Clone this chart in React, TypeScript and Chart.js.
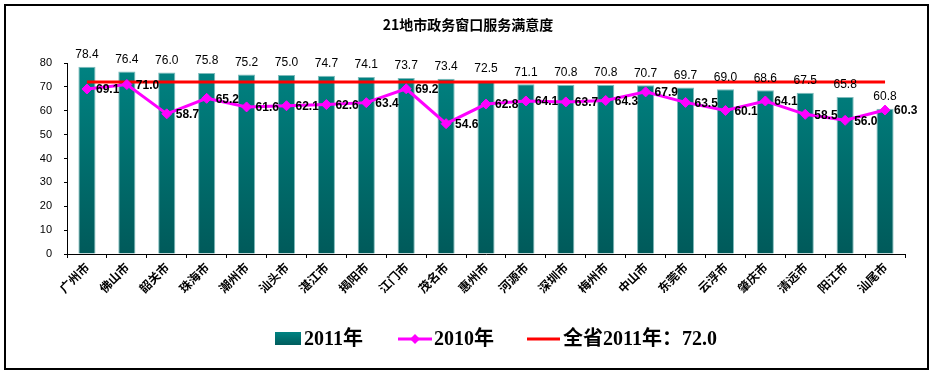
import React, { useEffect, useRef } from 'react';
import { Chart, registerables } from 'chart.js';

Chart.register(...registerables);

const chartTitle = '21地市政务窗口服务满意度';
const cities = [
  '广州市', '佛山市', '韶关市', '珠海市', '潮州市', '汕头市', '湛江市',
  '揭阳市', '江门市', '茂名市', '惠州市', '河源市', '深圳市', '梅州市',
  '中山市', '东莞市', '云浮市', '肇庆市', '清远市', '阳江市', '汕尾市',
];
const values2011 = [
  78.4, 76.4, 76.0, 75.8, 75.2, 75.0, 74.7, 74.1, 73.7, 73.4, 72.5,
  71.1, 70.8, 70.8, 70.7, 69.7, 69.0, 68.6, 67.5, 65.8, 60.8,
];
const values2010 = [
  69.1, 71.0, 58.7, 65.2, 61.6, 62.1, 62.6, 63.4, 69.2, 54.6, 62.8,
  64.1, 63.7, 64.3, 67.9, 63.5, 60.1, 64.1, 58.5, 56.0, 60.3,
];
const provinceAvg2011 = 72.0;
const seriesNames = ['2011年', '2010年', '全省2011年：72.0'];
const yMin = 0;
const yMax = 80;
const yStep = 10;

const TEAL_TOP = '#008382';
const TEAL_BOTTOM = '#005a5a';
const MAGENTA = '#ff00ff';
const RED = '#ff0000';

function tealGradient(ctx: CanvasRenderingContext2D, top: number, bottom: number) {
  const g = ctx.createLinearGradient(0, top, 0, bottom);
  g.addColorStop(0, TEAL_TOP);
  g.addColorStop(1, TEAL_BOTTOM);
  return g;
}

const decorPlugin = {
  id: 'decor',
  afterDatasetsDraw(chart: any) {
    const ctx: CanvasRenderingContext2D = chart.ctx;
    ctx.save();
    // bar value labels
    const barMeta = chart.getDatasetMeta(0);
    ctx.font = '12px "Liberation Sans"';
    ctx.fillStyle = '#000';
    ctx.textAlign = 'center';
    ctx.textBaseline = 'bottom';
    barMeta.data.forEach((el: any, i: number) => {
      ctx.fillText(values2011[i].toFixed(1), el.x, el.y - 6);
    });
    // line value labels
    const lineMeta = chart.getDatasetMeta(1);
    ctx.font = 'bold 12px "Liberation Sans"';
    ctx.textAlign = 'left';
    ctx.textBaseline = 'middle';
    lineMeta.data.forEach((el: any, i: number) => {
      ctx.fillText(values2010[i].toFixed(1), el.x + 9, el.y + 1);
    });
    ctx.restore();
  },
  afterDraw(chart: any) {
    const ctx: CanvasRenderingContext2D = chart.ctx;
    ctx.save();
    // title
    ctx.font = 'bold 14px "Noto Sans CJK SC"';
    ctx.fillStyle = '#000';
    ctx.textAlign = 'center';
    ctx.textBaseline = 'middle';
    ctx.fillText(chartTitle, 468, 25);

    // legend
    const ly = 339;
    ctx.font = 'bold 20px "Liberation Serif", "Noto Sans CJK SC"';
    ctx.textAlign = 'left';
    ctx.textBaseline = 'middle';
    // item 1: bar
    ctx.fillStyle = tealGradient(ctx, ly - 7, ly + 7);
    ctx.fillRect(275, ly - 7, 26, 13);
    ctx.fillStyle = '#000';
    ctx.fillText(seriesNames[0], 304, ly + 1);
    // item 2: magenta line with diamond
    ctx.strokeStyle = MAGENTA;
    ctx.lineWidth = 3;
    ctx.beginPath();
    ctx.moveTo(398, ly);
    ctx.lineTo(432, ly);
    ctx.stroke();
    ctx.fillStyle = MAGENTA;
    ctx.beginPath();
    ctx.moveTo(415 - 5, ly);
    ctx.lineTo(415, ly - 5);
    ctx.lineTo(415 + 5, ly);
    ctx.lineTo(415, ly + 5);
    ctx.closePath();
    ctx.fill();
    ctx.fillStyle = '#000';
    ctx.fillText(seriesNames[1], 434, ly + 1);
    // item 3: red line
    ctx.strokeStyle = RED;
    ctx.lineWidth = 3;
    ctx.beginPath();
    ctx.moveTo(527, ly);
    ctx.lineTo(560, ly);
    ctx.stroke();
    ctx.fillStyle = '#000';
    ctx.fillText(seriesNames[2], 563, ly + 1);

    // outer border
    ctx.strokeStyle = '#000';
    ctx.lineWidth = 2;
    ctx.strokeRect(5, 5, 923, 364);
    ctx.restore();
  },
};

export default function App() {
  const canvasRef = useRef<HTMLCanvasElement | null>(null);

  useEffect(() => {
    const canvas = canvasRef.current;
    if (!canvas) return;
    const chart = new Chart(canvas, {
      type: 'bar',
      data: {
        labels: cities,
        datasets: [
          {
            type: 'bar',
            label: seriesNames[0],
            data: values2011,
            order: 3,
            backgroundColor: (c: any) => {
              const area = c.chart.chartArea;
              if (!area) return TEAL_TOP;
              return tealGradient(c.chart.ctx, area.top, area.bottom);
            },
            borderColor: '#7fbcbc',
            borderWidth: 1,
            borderSkipped: 'bottom',
            barPercentage: 0.43,
            categoryPercentage: 1,
          },
          {
            type: 'line',
            label: seriesNames[1],
            data: values2010,
            order: 1,
            borderColor: MAGENTA,
            backgroundColor: MAGENTA,
            borderWidth: 3,
            pointStyle: 'rectRot',
            pointRadius: 5,
            pointBorderWidth: 1,
            pointBorderColor: MAGENTA,
            pointBackgroundColor: MAGENTA,
            tension: 0,
          },
          {
            type: 'line',
            label: seriesNames[2],
            data: cities.map(() => provinceAvg2011),
            order: 2,
            borderColor: RED,
            backgroundColor: RED,
            borderWidth: 3,
            pointRadius: 0,
            tension: 0,
          },
        ],
      } as any,
      options: {
        animation: false,
        responsive: false,
        maintainAspectRatio: false,
        devicePixelRatio: 1,
        layout: { padding: { left: 10, right: 30, top: 63, bottom: 61 } },
        plugins: {
          legend: { display: false },
          title: { display: false },
          tooltip: { enabled: false },
        },
        scales: {
          x: {
            offset: true,
            grid: {
              offset: true,
              drawOnChartArea: false,
              drawTicks: true,
              tickLength: 4,
              color: '#000',
            },
            border: { color: '#000', width: 1 },
            ticks: {
              color: '#000',
              autoSkip: false,
              minRotation: 45,
              maxRotation: 45,
              padding: 2,
              font: { family: '"Noto Sans CJK SC"', size: 12, weight: 'bold' },
            },
            afterFit(s: any) {
              s.height = 60;
            },
          },
          y: {
            min: yMin,
            max: yMax,
            grid: {
              drawOnChartArea: false,
              drawTicks: true,
              tickLength: 3,
              color: '#000',
            },
            border: { color: '#000', width: 1 },
            ticks: {
              stepSize: yStep,
              color: '#000',
              padding: 12,
              font: { family: '"Liberation Sans"', size: 11 },
            },
            afterFit(s: any) {
              s.width = 57;
            },
          },
        },
      } as any,
      plugins: [decorPlugin],
    });
    return () => chart.destroy();
  }, []);

  return (
    <div style={{ position: 'absolute', left: 0, top: 0, width: 935, height: 375, background: '#fff' }}>
      <canvas ref={canvasRef} width={935} height={375} style={{ display: 'block', width: 935, height: 375 }} />
    </div>
  );
}
